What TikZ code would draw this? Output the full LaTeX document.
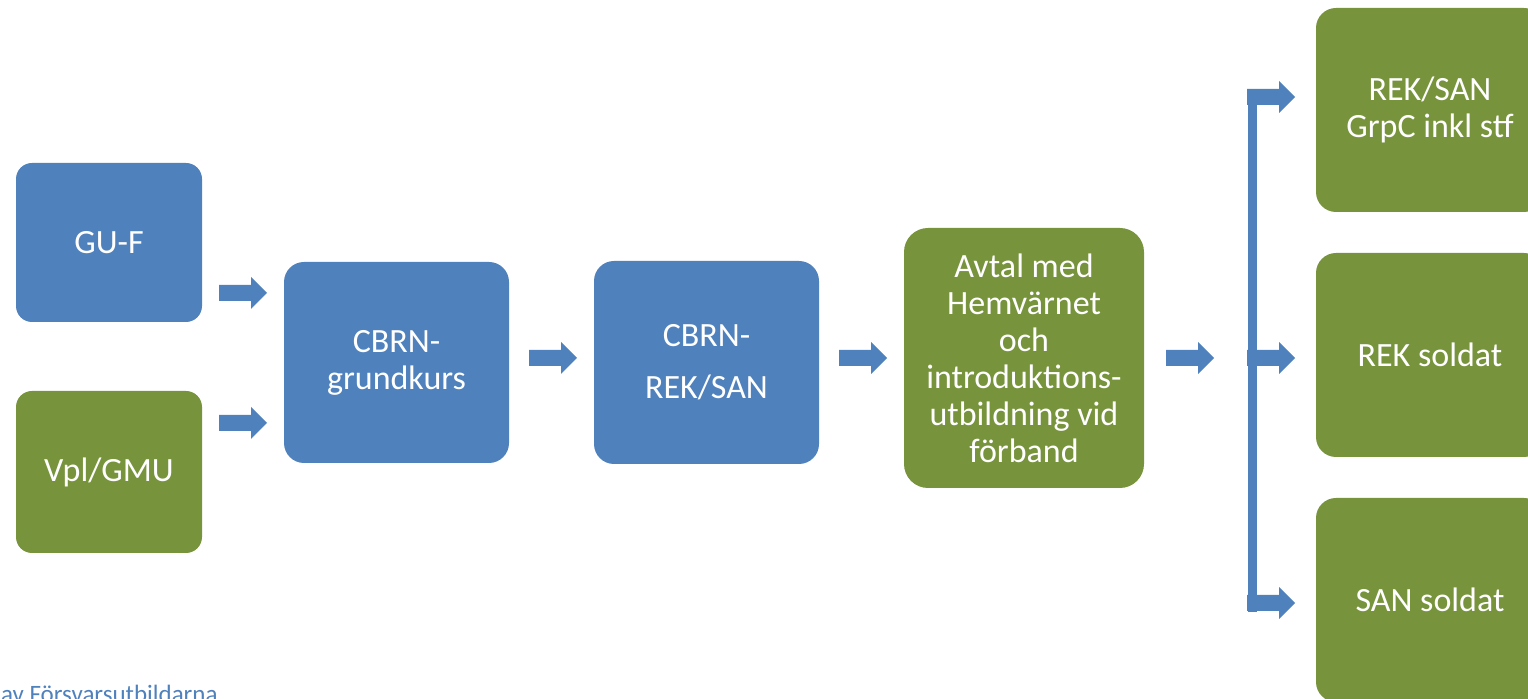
\documentclass[tikz,border=0pt]{standalone}
\usepackage{fontspec}
\setmainfont{Carlito}
\definecolor{boxblue}{HTML}{4F81BD}
\definecolor{boxgreen}{HTML}{77933C}
\begin{document}
\begin{tikzpicture}[x=0.5pt,y=-0.5pt,
  box/.style={rounded corners=10pt, inner sep=0pt, align=center, text=white,
    font=\fontsize{17}{18.5}\selectfont, draw=none},
  bluebox/.style={box, fill=boxblue},
  greenbox/.style={box, fill=boxgreen},
  barrow/.pic={\fill[boxblue] (0,-8) -- (32,-8) -- (32,-16) -- (48,0) -- (32,16) -- (32,8) -- (0,8) -- cycle;}
]
\useasboundingbox (0,0) rectangle (1528,699);
\clip (0,0) rectangle (1528,699);

% left column
\node[bluebox, rounded corners=8pt, minimum width=93pt, minimum height=79.5pt] (gu) at (109,242.5) {GU-F};
\node[greenbox, rounded corners=8pt, minimum width=93pt, minimum height=81pt] (vpl) at (109,472) {Vpl/GMU};

% middle boxes
\node[bluebox, minimum width=112.5pt, minimum height=100.5pt] (cg) at (396.5,362.5) {CBRN-\\grundkurs};
\node[bluebox, minimum width=112.5pt, minimum height=101.5pt, font=\fontsize{17}{26}\selectfont] (cr) at (706.5,362.5) {CBRN-\\REK/SAN};
\node[greenbox, rounded corners=12pt, minimum width=120pt, minimum height=130pt] (av) at (1024,358) {Avtal med\\Hemvärnet\\och\\introduktions-\\utbildning vid\\förband};

% right column
\node[greenbox, minimum width=114pt, minimum height=102pt] (r1) at (1430,110) {REK/SAN\\GrpC inkl stf};
\node[greenbox, minimum width=114pt, minimum height=102pt] (r2) at (1430,355) {REK soldat};
\node[greenbox, minimum width=114pt, minimum height=102pt] (r3) at (1430,600) {SAN soldat};

% block arrows
\pic (a1) at (219,293) {barrow};
\pic (a2) at (219,423) {barrow};
\pic (a3) at (529,358) {barrow};
\pic (a4) at (839,358) {barrow};
\pic (a5) at (1166,358) {barrow};

% branching bracket
\coordinate (bartop) at (1252.5,89);
\coordinate (barbot) at (1252.5,612);
\draw[boxblue, line width=4.5pt] (bartop) -- (barbot);
\pic (b1) at (1247,97) {barrow};
\pic (b2) at (1247,358) {barrow};
\pic (b3) at (1247,603) {barrow};

% footer
\node[anchor=base east, inner sep=0pt, text=boxblue, font=\fontsize{12.5}{15}\selectfont] (foot) at (218,703) {av Försvarsutbildarna};
\end{tikzpicture}
\end{document}
